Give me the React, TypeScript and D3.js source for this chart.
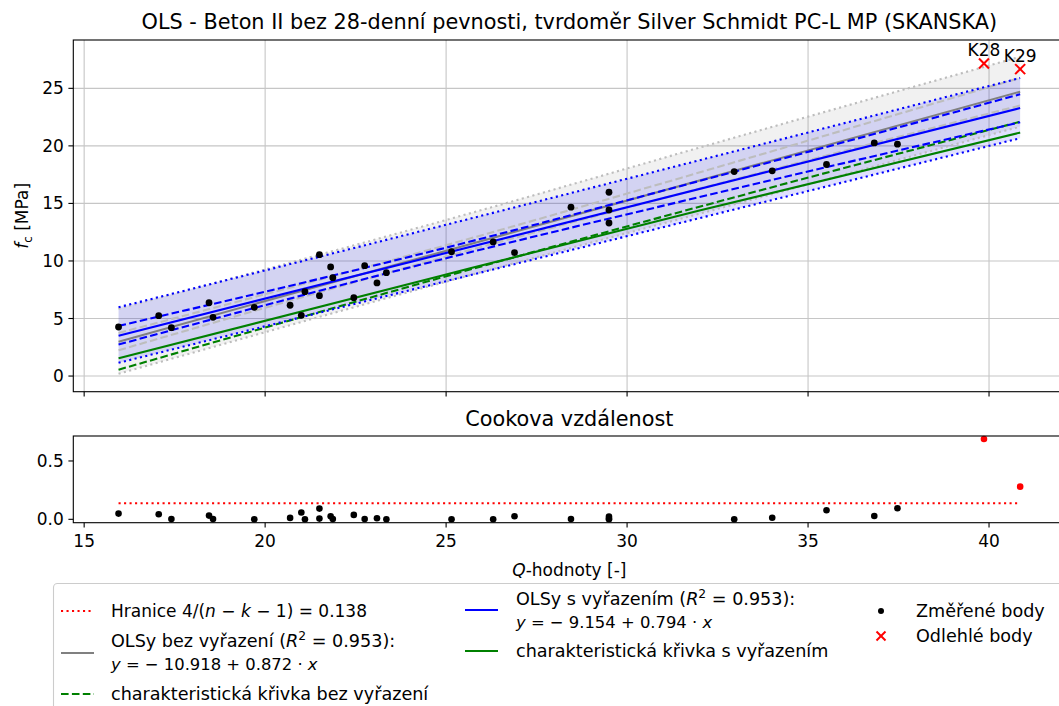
import React from "react";
import * as d3 from "d3";

// ---------- data ----------
const Q_MEASURED = [15.95, 17.06, 17.41, 18.45, 18.56, 19.7, 20.69, 21.0, 21.1, 21.5, 21.5, 21.81, 21.87, 22.45, 22.75, 23.09, 23.35, 25.15, 26.3, 26.89, 28.45, 29.5, 29.5, 29.5, 32.96, 34.01, 35.51, 36.83, 37.47];
const FC_MEASURED = [4.26, 5.25, 4.2, 6.37, 5.1, 5.97, 6.15, 5.28, 7.33, 10.55, 6.98, 9.48, 8.55, 6.81, 9.59, 8.09, 8.98, 10.8, 11.65, 10.72, 14.67, 15.97, 14.43, 13.3, 17.77, 17.83, 18.38, 20.26, 20.15];
const COOK_MEASURED = [0.049, 0.043, 0.002, 0.032, 0.002, 0.001, 0.012, 0.058, 0.001, 0.092, 0.006, 0.026, 0.002, 0.038, 0.003, 0.009, 0.001, 0.001, 0.001, 0.026, 0.003, 0.023, 0.003, 0.003, 0.001, 0.014, 0.078, 0.029, 0.095];

const Q_OUTLIER = [39.86, 40.86];
const FC_OUTLIER = [27.16, 26.67];
const COOK_OUTLIER = [0.688, 0.28];
const OUTLIER_LABELS = ["K28", "K29"];

const COOK_THRESHOLD = 0.138;

// regression lines (endpoints at data range)
const LINE_X = [15.95, 40.86];
const OLS_ALL = [2.99, 24.71]; // y = -10.918 + 0.872x
const OLS_EXCL = [3.51, 23.29]; // y = -9.154 + 0.794x

// bands, without exclusion (gray)
const BAND_X_ALL = [15.95, 25.84, 33.0, 40.86];
const PRED_ALL_UP = [5.85, 14.3, 20.75, 27.75];
const PRED_ALL_LO = [0.2, 8.92, 14.95, 21.68];
const CONF_ALL_UP = [3.74, 12.11, 18.61, 25.91];
const CONF_ALL_LO = [2.24, 11.11, 17.11, 23.51];
const CHAR_ALL = [0.55, 9.41, 15.56, 22.1];

// bands, with exclusion (blue)
const BAND_X_EXCL = [15.95, 24.84, 32.0, 40.86];
const PRED_EXCL_UP = [5.98, 13.02, 18.75, 25.9];
const PRED_EXCL_LO = [1.15, 8.12, 13.72, 20.67];
const CONF_EXCL_UP = [4.36, 11.03, 16.95, 24.48];
const CONF_EXCL_LO = [2.74, 10.11, 15.55, 22.05];
const CHAR_EXCL = [1.55, 8.7, 14.38, 21.16];

const X_TICKS = [15, 20, 25, 30, 35, 40];
const Y_TICKS_TOP = [0, 5, 10, 15, 20, 25];
const Y_TICKS_COOK = [0, 0.5];

// ---------- layout ----------
const W = 1059;
const H = 706;
const AX_L = 73.3;
const AX_R = 1065.4;
const TOP_T = 40;
const TOP_B = 391.7;
const COOK_T = 436;
const COOK_B = 522.7;
const FONT = "DejaVu Sans, Verdana, sans-serif";

const x = d3.scaleLinear().domain([14.7, 42.11]).range([AX_L, AX_R]);
const yTop = d3.scaleLinear().domain([-1.36, 29.2]).range([TOP_B, TOP_T]);
const yCook = d3.scaleLinear().domain([-0.029, 0.714]).range([COOK_B, COOK_T]);

const DOT = "2.1,3.4";
const DASH = "7.6,3.3";

function pathFrom(xs: number[], ys: number[], curve = d3.curveMonotoneX) {
  const pts = xs.map((v, i) => [v, ys[i]] as [number, number]);
  return d3
    .line<[number, number]>()
    .x((d) => x(d[0]))
    .y((d) => yTop(d[1]))
    .curve(curve)(pts) as string;
}

function areaFrom(xs: number[], lo: number[], hi: number[]) {
  const pts = xs.map((v, i) => ({ x: v, lo: lo[i], hi: hi[i] }));
  return d3
    .area<{ x: number; lo: number; hi: number }>()
    .x((d) => x(d.x))
    .y0((d) => yTop(d.lo))
    .y1((d) => yTop(d.hi))
    .curve(d3.curveMonotoneX)(pts) as string;
}

function XMark({ cx, cy, s, color }: { cx: number; cy: number; s: number; color: string }) {
  return (
    <g stroke={color} strokeWidth={2}>
      <line x1={cx - s} y1={cy - s} x2={cx + s} y2={cy + s} />
      <line x1={cx - s} y1={cy + s} x2={cx + s} y2={cy - s} />
    </g>
  );
}

export default function App() {
  const fs = 17;
  const ls = 17.6;
  const ms = 16.4;
  const ts = 20.8;
  return (
    <svg
      width={W}
      height={H}
      viewBox={`0 0 ${W} ${H}`}
      style={{ position: "absolute", left: 0, top: 0, background: "#fff", fontFamily: FONT }}
    >
      <rect x={0} y={0} width={W} height={H} fill="#fff" />
      {/* ---------- title ---------- */}
      <text x={(AX_L + AX_R) / 2} y={29} fontSize={ts} textAnchor="middle" fill="#000">
        OLS - Beton II bez 28-denní pevnosti, tvrdoměr Silver Schmidt PC-L MP (SKANSKA)
      </text>

      {/* ---------- top plot grid ---------- */}
      <g stroke="#c6c6c6" strokeWidth={1.1}>
        {X_TICKS.map((t) => (
          <line key={"gx" + t} x1={x(t)} x2={x(t)} y1={TOP_T} y2={TOP_B} />
        ))}
        {Y_TICKS_TOP.map((t) => (
          <line key={"gy" + t} x1={AX_L} x2={AX_R} y1={yTop(t)} y2={yTop(t)} />
        ))}
      </g>

      {/* ---------- bands ---------- */}
      <path d={areaFrom(BAND_X_ALL, PRED_ALL_LO, PRED_ALL_UP)} fill="#808080" fillOpacity={0.11} />
      <path d={areaFrom(BAND_X_EXCL, PRED_EXCL_LO, PRED_EXCL_UP)} fill="#0000ff" fillOpacity={0.12} />

      {/* gray (without exclusion) */}
      <g fill="none">
        <path d={pathFrom(BAND_X_ALL, PRED_ALL_UP)} stroke="#bdbdbd" strokeWidth={2.1} strokeDasharray={DOT} />
        <path d={pathFrom(BAND_X_ALL, PRED_ALL_LO)} stroke="#bdbdbd" strokeWidth={2.1} strokeDasharray={DOT} />
        <path d={pathFrom(BAND_X_ALL, CONF_ALL_UP)} stroke="#bdbdbd" strokeWidth={2.1} strokeDasharray={DASH} />
        <path d={pathFrom(BAND_X_ALL, CONF_ALL_LO)} stroke="#bdbdbd" strokeWidth={2.1} strokeDasharray={DASH} />
        <path d={pathFrom(LINE_X, OLS_ALL, d3.curveLinear)} stroke="#808080" strokeWidth={2.1} />
        <path d={pathFrom(BAND_X_ALL, CHAR_ALL)} stroke="#008000" strokeWidth={2.1} strokeDasharray={DASH} />
      </g>
      {/* blue (with exclusion) */}
      <g fill="none">
        <path d={pathFrom(BAND_X_EXCL, PRED_EXCL_UP)} stroke="#0000ff" strokeWidth={2.1} strokeDasharray={DOT} />
        <path d={pathFrom(BAND_X_EXCL, PRED_EXCL_LO)} stroke="#0000ff" strokeWidth={2.1} strokeDasharray={DOT} />
        <path d={pathFrom(BAND_X_EXCL, CONF_EXCL_UP)} stroke="#0000ff" strokeWidth={2.1} strokeDasharray={DASH} />
        <path d={pathFrom(BAND_X_EXCL, CONF_EXCL_LO)} stroke="#0000ff" strokeWidth={2.1} strokeDasharray={DASH} />
        <path d={pathFrom(LINE_X, OLS_EXCL, d3.curveLinear)} stroke="#0000ff" strokeWidth={2.1} />
        <path d={pathFrom(BAND_X_EXCL, CHAR_EXCL)} stroke="#008000" strokeWidth={2.1} />
      </g>

      {/* points */}
      {Q_MEASURED.map((q, i) => (
        <circle key={"p" + i} cx={x(q)} cy={yTop(FC_MEASURED[i])} r={3.4} fill="#000" />
      ))}
      {Q_OUTLIER.map((q, i) => (
        <g key={"o" + i}>
          <XMark cx={x(q)} cy={yTop(FC_OUTLIER[i])} s={5} color="#ff0000" />
          <text x={x(q)} y={yTop(FC_OUTLIER[i]) - 7} fontSize={fs} textAnchor="middle" fill="#000">
            {OUTLIER_LABELS[i]}
          </text>
        </g>
      ))}

      {/* top axes frame */}
      <rect x={AX_L} y={TOP_T} width={AX_R - AX_L} height={TOP_B - TOP_T} fill="none" stroke="#000" strokeWidth={1.1} />
      {X_TICKS.map((t) => (
        <line key={"tx" + t} x1={x(t)} x2={x(t)} y1={TOP_B} y2={TOP_B + 4.9} stroke="#000" strokeWidth={1.1} />
      ))}
      {Y_TICKS_TOP.map((t) => (
        <g key={"ty" + t}>
          <line x1={AX_L - 4.9} x2={AX_L} y1={yTop(t)} y2={yTop(t)} stroke="#000" strokeWidth={1.1} />
          <text x={AX_L - 9.5} y={yTop(t) + 6} fontSize={fs} textAnchor="end" fill="#000">
            {t}
          </text>
        </g>
      ))}
      <text
        transform={`translate(28,${(TOP_T + TOP_B) / 2}) rotate(-90)`}
        fontSize={fs}
        textAnchor="middle"
        fill="#000"
      >
        <tspan fontStyle="italic">f</tspan>
        <tspan fontSize={fs * 0.7} dy={3.5}>c</tspan>
        <tspan dy={-3.5}> [MPa]</tspan>
      </text>

      {/* ---------- Cook's distance ---------- */}
      <text x={(AX_L + AX_R) / 2} y={426} fontSize={ts} textAnchor="middle" fill="#000">
        Cookova vzdálenost
      </text>
      <line
        x1={x(LINE_X[0])}
        x2={x(LINE_X[1])}
        y1={yCook(COOK_THRESHOLD)}
        y2={yCook(COOK_THRESHOLD)}
        stroke="#ff0000"
        strokeWidth={2.1}
        strokeDasharray={DOT}
      />
      {Q_MEASURED.map((q, i) => (
        <circle key={"c" + i} cx={x(q)} cy={yCook(COOK_MEASURED[i])} r={3.3} fill="#000" />
      ))}
      {Q_OUTLIER.map((q, i) => (
        <circle key={"co" + i} cx={x(q)} cy={yCook(COOK_OUTLIER[i])} r={3.3} fill="#ff0000" />
      ))}
      <rect x={AX_L} y={COOK_T} width={AX_R - AX_L} height={COOK_B - COOK_T} fill="none" stroke="#000" strokeWidth={1.1} />
      {X_TICKS.map((t) => (
        <g key={"cx" + t}>
          <line x1={x(t)} x2={x(t)} y1={COOK_B} y2={COOK_B + 4.9} stroke="#000" strokeWidth={1.1} />
          <text x={x(t)} y={COOK_B + 24.5} fontSize={fs} textAnchor="middle" fill="#000">
            {t}
          </text>
        </g>
      ))}
      {Y_TICKS_COOK.map((t) => (
        <g key={"cy" + t}>
          <line x1={AX_L - 4.9} x2={AX_L} y1={yCook(t)} y2={yCook(t)} stroke="#000" strokeWidth={1.1} />
          <text x={AX_L - 9.5} y={yCook(t) + 6} fontSize={fs} textAnchor="end" fill="#000">
            {t.toFixed(1)}
          </text>
        </g>
      ))}
      <text x={(AX_L + AX_R) / 2} y={576} fontSize={fs} textAnchor="middle" fill="#000">
        <tspan fontStyle="italic">Q</tspan>
        <tspan>-hodnoty [-]</tspan>
      </text>

      {/* ---------- legend ---------- */}
      <rect x={53.5} y={583.5} width={1040} height={150} rx={4} fill="#fff" fillOpacity={0.8} stroke="#cccccc" strokeWidth={1.1} />
      <g fontSize={ls} fill="#000">
        {/* column 1 */}
        <line x1={61} x2={94} y1={611} y2={611} stroke="#ff0000" strokeWidth={2.1} strokeDasharray={DOT} />
        <text x={111} y={617} fontSize={fs}>
          Hranice 4/(<tspan fontStyle="italic">n</tspan> − <tspan fontStyle="italic">k</tspan> − 1) = 0.138
        </text>
        <line x1={61} x2={94} y1={653} y2={653} stroke="#808080" strokeWidth={2.1} />
        <text x={111} y={647}>
          OLSy bez vyřazení (<tspan fontStyle="italic">R</tspan>
          <tspan fontSize={ls * 0.7} dy={-7}>2</tspan>
          <tspan dy={7}> = 0.953):</tspan>
        </text>
        <text x={111} y={670} fontSize={ms}>
          <tspan fontStyle="italic">y</tspan> = − 10.918 + 0.872 · <tspan fontStyle="italic">x</tspan>
        </text>
        <line x1={61} x2={94} y1={694} y2={694} stroke="#008000" strokeWidth={2.1} strokeDasharray={DASH} />
        <text x={111} y={700}>charakteristická křivka bez vyřazení</text>

        {/* column 2 */}
        <line x1={465} x2={498} y1={610} y2={610} stroke="#0000ff" strokeWidth={2.1} />
        <text x={516} y={605}>
          OLSy s vyřazením (<tspan fontStyle="italic">R</tspan>
          <tspan fontSize={ls * 0.7} dy={-7}>2</tspan>
          <tspan dy={7}> = 0.953):</tspan>
        </text>
        <text x={516} y={628} fontSize={ms}>
          <tspan fontStyle="italic">y</tspan> = − 9.154 + 0.794 · <tspan fontStyle="italic">x</tspan>
        </text>
        <line x1={465} x2={498} y1={651} y2={651} stroke="#008000" strokeWidth={2.1} />
        <text x={516} y={657}>charakteristická křivka s vyřazením</text>

        {/* column 3 */}
        <circle cx={881} cy={611} r={3} fill="#000" />
        <text x={916} y={617}>Změřené body</text>
        <XMark cx={881} cy={636} s={4.5} color="#ff0000" />
        <text x={916} y={642}>Odlehlé body</text>
      </g>
    </svg>
  );
}
